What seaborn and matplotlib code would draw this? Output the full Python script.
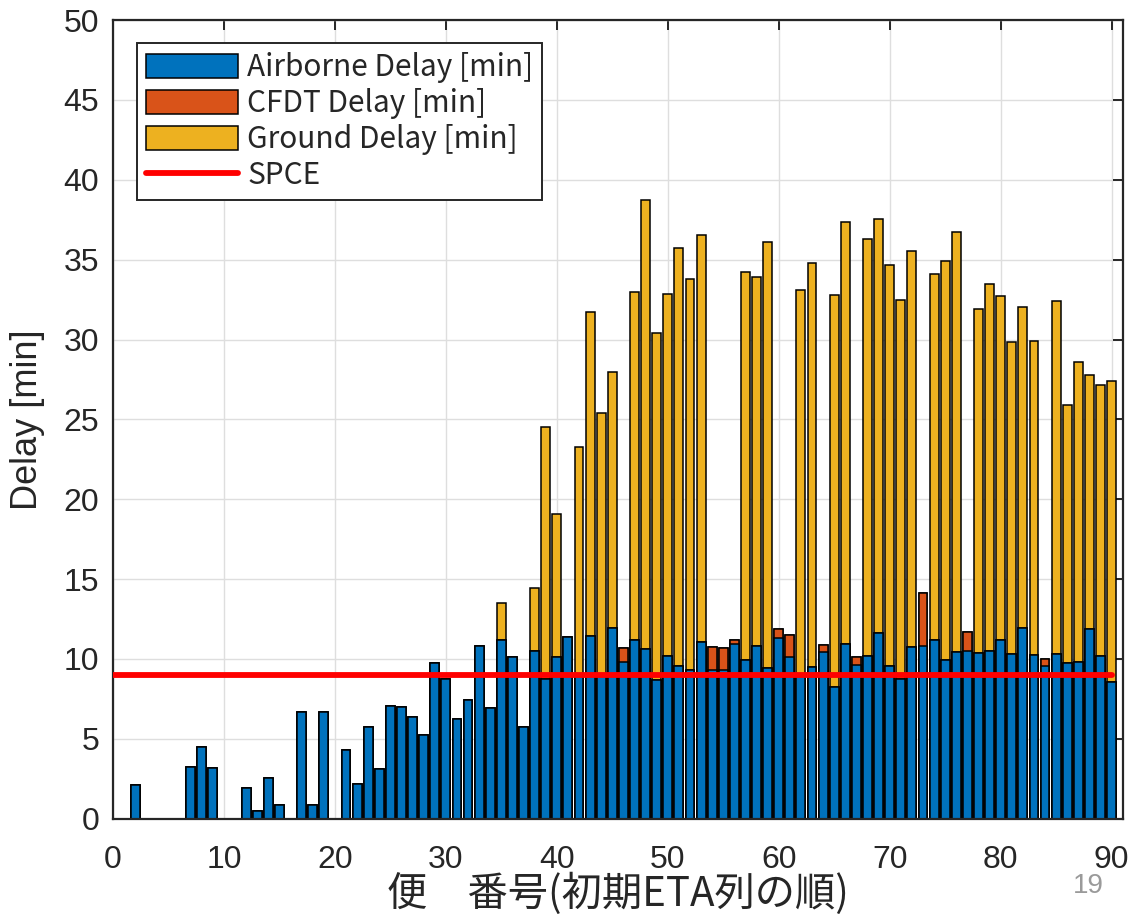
import numpy as np
import pandas as pd
import matplotlib
matplotlib.use("Agg")
import matplotlib.pyplot as plt
import seaborn as sns
from matplotlib.patches import Patch
from matplotlib.lines import Line2D

# ---------------- data ----------------
flight = list(range(1, 91))

airborne = [
    0.0, 2.1, 0.0, 0.0, 0.0, 0.0, 3.25, 4.5, 3.15, 0.0,
    0.0, 1.95, 0.45, 2.57, 0.87, 0.0, 6.7, 0.87, 6.7, 0.0,
    4.27, 2.14, 5.71, 3.14, 7.07, 7.0, 6.34, 5.25, 9.73, 8.77,
    6.26, 7.45, 10.8, 6.92, 11.2, 10.12, 5.77, 10.47, 8.74, 10.12,
    11.4, 8.95, 11.42, 9.05, 11.95, 9.8, 11.17, 10.63, 8.68, 10.19,
    9.53, 9.29, 11.04, 9.3, 9.33, 10.96, 9.96, 10.83, 9.43, 11.34,
    10.13, 9.0, 9.48, 10.42, 8.25, 10.91, 9.65, 10.17, 11.62, 9.58,
    8.74, 10.72, 10.79, 11.16, 9.94, 10.44, 10.49, 10.35, 10.48, 11.18,
    10.28, 11.92, 10.24, 9.57, 10.34, 9.77, 9.84, 11.88, 10.21, 8.58,
]

cfdt = [
    0, 0, 0, 0, 0, 0, 0, 0, 0, 0,
    0, 0, 0, 0, 0, 0, 0, 0, 0, 0,
    0, 0, 0, 0, 0, 0, 0, 0, 0, 0,
    0, 0, 0, 0, 0, 0, 0, 0, 0, 0,
    0, 0, 0, 0, 0, 0.9, 0, 0, 0, 0,
    0, 0, 0, 1.46, 1.38, 0.21, 0, 0, 0, 0.56,
    1.34, 0, 0, 0.44, 0, 0, 0.49, 0, 0, 0,
    0, 0, 3.32, 0, 0, 0, 1.17, 0, 0, 0,
    0, 0, 0, 0.44, 0, 0, 0, 0, 0, 0,
]

ground = [
    0, 0, 0, 0, 0, 0, 0, 0, 0, 0,
    0, 0, 0, 0, 0, 0, 0, 0, 0, 0,
    0, 0, 0, 0, 0, 0, 0, 0, 0, 0,
    0, 0, 0, 0, 2.29, 0, 0, 3.96, 15.81, 8.93,
    0, 14.33, 20.32, 16.38, 15.99, 0, 21.83, 28.1, 21.71, 22.68,
    26.21, 24.53, 25.48, 0, 0, 0, 24.26, 23.07, 26.67, 0,
    0, 24.13, 25.3, 0, 24.56, 26.42, 0, 26.13, 25.9, 25.11,
    23.76, 24.83, 0, 22.93, 24.98, 26.32, 0, 21.54, 23.0, 21.57,
    19.56, 20.12, 19.66, 0, 22.06, 16.16, 18.73, 15.92, 16.95, 18.82,
]

spce_x = [0, 90]
spce_y = [9, 9]

series_labels = ["Airborne Delay [min]", "CFDT Delay [min]", "Ground Delay [min]", "SPCE"]
xlabel_text = "便　番号(初期ETA列の順)"
ylabel_text = "Delay [min]"
xticks = [0, 10, 20, 30, 40, 50, 60, 70, 80, 90]
yticks = [0, 5, 10, 15, 20, 25, 30, 35, 40, 45, 50]
page_no = "19"

C_BLUE = "#0072BD"
C_ORANGE = "#D95319"
C_YELLOW = "#EDB120"

# ---------------- build frame ----------------
df = pd.DataFrame({"flight": flight, "airborne": airborne, "cfdt": cfdt, "ground": ground})
df["lvl_orange"] = df["airborne"] + df["cfdt"]
df["lvl_total"] = df["lvl_orange"] + df["ground"]

sns.set_theme(style="whitegrid")
plt.rcParams["font.family"] = ["Liberation Sans", "Noto Sans CJK JP", "DejaVu Sans"]

fig = plt.figure(figsize=(11.32, 9.14), dpi=100)
ax = fig.add_axes([0.0998, 0.1043, 0.892, 0.8737])

edge_kw = dict(edgecolor="black", linewidth=1.1)
sns.barplot(data=df, x="flight", y="lvl_total", native_scale=True, width=0.8,
            color=C_YELLOW, saturation=1, errorbar=None, ax=ax, **edge_kw)
sns.barplot(data=df, x="flight", y="lvl_orange", native_scale=True, width=0.8,
            color=C_ORANGE, saturation=1, errorbar=None, ax=ax, **edge_kw)
sns.barplot(data=df, x="flight", y="airborne", native_scale=True, width=0.8,
            color=C_BLUE, saturation=1, errorbar=None, ax=ax, **edge_kw)

sns.lineplot(x=spce_x, y=spce_y, color="#FF0000", linewidth=4.2, ax=ax, zorder=5)

ax.set_xlim(0, 91)
ax.set_ylim(0, 50)
ax.set_xticks(xticks)
ax.set_yticks(yticks)
ax.set_xticklabels([str(t) for t in xticks])
ax.set_yticklabels([str(t) for t in yticks])

ax.grid(True, color="#dedede", linewidth=1.0)
ax.set_axisbelow(True)
for s in ax.spines.values():
    s.set_visible(True)
    s.set_color("#262626")
    s.set_linewidth(1.6)

ax.tick_params(axis="both", which="major", direction="in", length=7, width=1.4,
               color="#262626", top=True, right=True, labelsize=23,
               labelcolor="#262626")
ax.tick_params(axis="x", pad=19)
ax.tick_params(axis="y", pad=10)

ax.set_xlabel(xlabel_text, fontsize=29, color="#262626",
              family=["Noto Sans CJK JP", "DejaVu Sans"], labelpad=-2)
ax.set_ylabel(ylabel_text, fontsize=26, color="#262626")
ax.yaxis.set_label_coords((45 - 113) / 1010, 0.5)

handles = [
    Patch(facecolor=C_BLUE, edgecolor="black", linewidth=1.1),
    Patch(facecolor=C_ORANGE, edgecolor="black", linewidth=1.1),
    Patch(facecolor=C_YELLOW, edgecolor="black", linewidth=1.1),
    Line2D([0], [0], color="#FF0000", linewidth=4.2),
]
leg = ax.legend(handles, series_labels, loc="upper left",
                bbox_to_anchor=(0.0235, 0.971),
                prop={"family": ["Noto Sans CJK JP", "DejaVu Sans"], "size": 21.5},
                frameon=True, fancybox=False, framealpha=1,
                edgecolor="#262626", handlelength=3.1, handleheight=0.9,
                labelspacing=0.17, borderpad=0.3, handletextpad=0.3,
                borderaxespad=0)
leg.get_frame().set_linewidth(1.4)

fig.text(1088 / 1132, 1 - 886 / 914, page_no, fontsize=20, color="#9a9a9a",
         ha="center", va="center")

fig.savefig("out.png", dpi=100)
